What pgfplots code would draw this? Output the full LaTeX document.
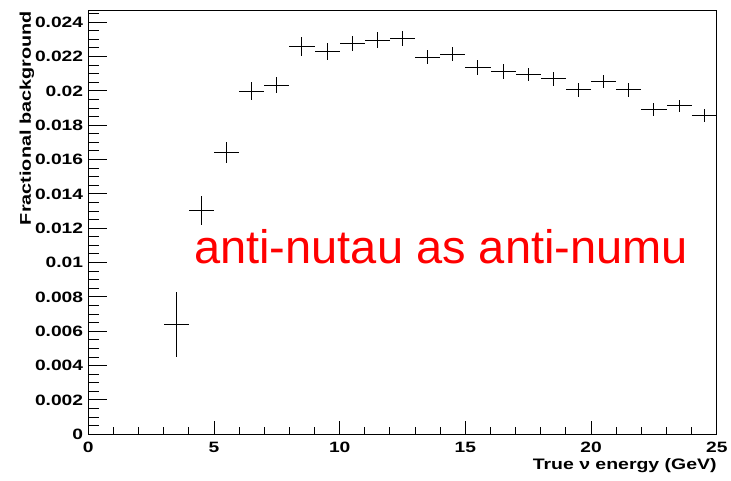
\documentclass[border=0pt]{standalone}
\usepackage{fontspec}
\setmainfont{Liberation Sans}[FakeStretch=1.28]
\newfontfamily\redfont{Liberation Sans}
\usepackage{pgfplots}
\usepackage{pgfplotstable}
\pgfplotsset{compat=1.18}
\pgfplotstableread{
x y ex ey
3.5 0.00638 0.5 0.00188
4.5 0.01302 0.5 0.00085
5.5 0.01642 0.5 0.00063
6.5 0.01999 0.5 0.00052
7.5 0.02034 0.5 0.00047
8.5 0.02257 0.5 0.00054
9.5 0.02227 0.5 0.00050
10.5 0.02277 0.5 0.00044
11.5 0.02296 0.5 0.00044
12.5 0.02304 0.5 0.00042
13.5 0.02196 0.5 0.00042
14.5 0.02213 0.5 0.00041
15.5 0.02135 0.5 0.00042
16.5 0.02112 0.5 0.00042
17.5 0.02094 0.5 0.00039
18.5 0.02071 0.5 0.00041
19.5 0.02005 0.5 0.00039
20.5 0.02054 0.5 0.00039
21.5 0.02005 0.5 0.00039
22.5 0.01891 0.5 0.00039
23.5 0.01912 0.5 0.00037
24.5 0.01858 0.5 0.00037
}\data
\begin{document}
\begin{tikzpicture}
\useasboundingbox (0,0) rectangle (731pt,480pt);
\pgfplotsset{
  common/.style={
    at={(88.3pt,45.7pt)}, anchor=south west,
    scale only axis, width=628.5pt, height=423.3pt,
    xmin=0, xmax=25, ymin=0, ymax=0.02465,
    axis line style={line width=1pt, black},
    tick style={line width=1pt, black},
    tick align=inside, tick pos=left,
    tick label style={font=\fontsize{15}{15}\selectfont\bfseries},
  }
}
% x axis ticks + data
\begin{axis}[common,
  major tick length=13.7pt, minor tick length=7pt,
  xtick={0,5,10,15,20,25},
  xticklabels={0,5,10,15,20,25},
  minor xtick={1,2,3,4,6,7,8,9,11,12,13,14,16,17,18,19,21,22,23,24},
  xticklabel style={inner sep=0pt, anchor=north, yshift=-7.4pt},
  ytick=\empty,
  xlabel={True ν energy (GeV)},
  xlabel style={at={(rel axis cs:1,0)}, anchor=base east, inner sep=0pt, yshift=-35pt,
    font=\fontsize{15.2}{15.2}\selectfont\bfseries},
]
\addplot[draw=none, mark=none,
  error bars/.cd, x dir=both, x explicit, y dir=both, y explicit,
  error mark=none,
  error bar style={draw=black, solid, line width=1pt}]
  table[x=x, y=y, x error=ex, y error=ey] {\data};
\end{axis}
% y axis ticks
\begin{axis}[common,
  major tick length=19pt, minor tick length=10.7pt,
  xtick=\empty,
  ytick={0,0.002,0.004,0.006,0.008,0.010,0.012,0.014,0.016,0.018,0.020,0.022,0.024},
  yticklabels={0,0.002,0.004,0.006,0.008,0.01,0.012,0.014,0.016,0.018,0.02,0.022,0.024},
  minor ytick={0.0005,0.001,0.0015,0.0025,0.003,0.0035,0.0045,0.005,0.0055,0.0065,0.007,0.0075,0.0085,0.009,0.0095,0.0105,0.011,0.0115,0.0125,0.013,0.0135,0.0145,0.015,0.0155,0.0165,0.017,0.0175,0.0185,0.019,0.0195,0.0205,0.021,0.0215,0.0225,0.023,0.0235,0.0245},
  yticklabel style={inner sep=0pt, anchor=east, xshift=-5pt},
  ylabel={Fractional background},
  ylabel style={at={([xshift=-57.3pt]rel axis cs:0,1)}, anchor=base east, inner sep=0pt,
    font=\fontsize{15.5}{15.5}\selectfont\bfseries},
]
\end{axis}
\node[anchor=base west, inner sep=0pt, text=red, font=\redfont\fontsize{47}{47}\selectfont] at (194pt,216.7pt) {anti-nutau as anti-numu};
\end{tikzpicture}
\end{document}
